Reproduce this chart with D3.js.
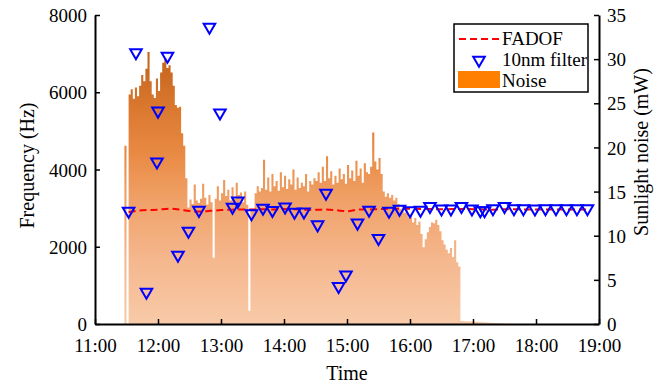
<!DOCTYPE html>
<html>
<head>
<meta charset="utf-8">
<script src="https://cdn.jsdelivr.net/npm/d3@7"></script>
<style>
  html, body { margin: 0; padding: 0; background: #ffffff; }
  svg { display: block; }
</style>
</head>
<body>
<div id="chart"></div>
<script>
// Sunlight noise (mW), sampled every 2 minutes from 11:28
const noiseStart = '11:28';
const noiseStepMin = 2;
const noiseValues = [
  20.2, 0, 26.0, 26.6, 25.5, 26.8, 25.8, 27.0, 28.2, 27.5,
  28.9, 30.8, 27.5, 26.0, 25.6, 27.8, 26.4, 28.5, 29.6, 30.1,
  29.0, 29.3, 28.5, 27.0, 24.8, 24.5, 24.6, 21.6, 20.2, 16.5,
  13.2, 14.1, 13.6, 15.8, 14.0, 13.7, 14.2, 15.9, 14.3, 13.5,
  14.6, 13.8, 7.5, 14.2, 15.6, 14.0, 14.8, 16.3, 14.5, 15.2,
  14.0, 15.5, 14.2, 16.0, 14.6, 14.9, 13.8, 15.0, 13.5, 1.5,
  12.8, 13.0, 14.8, 15.6, 15.0, 15.4, 18.6, 15.2, 16.6, 15.0,
  17.0, 15.6, 16.2, 15.1, 17.2, 15.5, 16.8, 15.3, 16.4, 15.8,
  17.5, 15.2, 16.6, 15.4, 16.0, 15.6, 17.0, 15.0, 16.2, 15.8,
  16.5, 16.2, 17.2, 16.0, 17.8, 16.2, 19.0, 16.5, 17.3, 15.8,
  16.8, 16.0, 17.6, 16.4, 17.0, 15.9, 18.0, 16.5, 17.4, 16.2,
  18.5, 16.8, 17.6, 16.0, 18.2, 17.2, 17.0, 17.8, 21.7, 18.4,
  17.5, 18.8, 17.0, 15.0, 14.4, 14.8, 14.3, 14.6, 14.0, 14.3,
  13.6, 13.0, 13.4, 12.6, 12.9, 12.1, 12.4, 11.5, 12.0, 11.2,
  11.6, 10.2, 8.7, 9.6, 10.4, 11.0, 11.5, 11.4, 11.8, 11.2,
  10.5, 9.5, 9.0, 8.4, 8.0, 8.6, 7.6, 9.5, 7.0, 6.5,
  0.35, 0.35, 0.3, 0.3, 0.3, 0.28, 0.28, 0.25, 0.25, 0.22,
  0.2, 0.2, 0.18, 0.15, 0.15, 0.12, 0.1, 0.1, 0.08, 0.06,
  0.05, 0.04, 0.03, 0.02, 0.01, 0
];

// FADOF frequency (Hz)
const fadofTimes = ['11:32', '11:40', '11:50', '12:00', '12:10', '12:20', '12:30', '12:40', '12:50', '13:00',
  '13:10', '13:20', '13:30', '13:40', '13:50', '14:00', '14:10', '14:20', '14:30', '14:40',
  '14:50', '15:00', '15:10', '15:20', '15:30', '15:40', '15:50', '16:00', '16:10', '16:20',
  '16:30', '16:40', '16:50', '17:00', '17:10', '17:20', '17:30', '17:40', '17:50', '18:00',
  '18:10', '18:20', '18:30', '18:40', '18:50'];
const fadofValues = [2900, 2930, 2950, 2960, 2985, 2965, 2925, 2910, 2930, 2950,
  2960, 2965, 2965, 2970, 2965, 2975, 2970, 2960, 2955, 2965,
  2945, 2920, 2960, 2965, 2975, 2985, 2985, 2985, 2980, 2975,
  2970, 2975, 2980, 2970, 2965, 2960, 2970, 2970, 2965, 2965,
  2965, 2965, 2965, 2965, 2965];

// 10nm filter frequency (Hz)
const filterTimes = ['11:32', '11:39', '11:49', '11:59', '12:00', '12:09', '12:19', '12:29', '12:39', '12:49',
  '12:59', '13:11', '13:16', '13:29', '13:40', '13:49', '14:01', '14:10', '14:19', '14:32',
  '14:40', '14:52', '14:59', '15:10', '15:21', '15:30', '15:40', '15:50', '16:00', '16:10',
  '16:19', '16:30', '16:39', '16:49', '16:59', '17:07', '17:11', '17:19', '17:30', '17:39',
  '17:48', '17:59', '18:09', '18:19', '18:29', '18:39', '18:49'];
const filterValues = [2900, 7000, 800, 4170, 5490, 6910, 1760, 2380, 2920, 7660,
  5440, 3000, 3160, 2830, 2975, 2915, 3005, 2870, 2880, 2545,
  3365, 950, 1245, 2590, 2925, 2195, 2900, 2950, 2910, 2925,
  3020, 2955, 2955, 3020, 2955, 2910, 2910, 2960, 3020, 2960,
  2960, 2955, 2960, 2960, 2960, 2960, 2960];

const xTickLabels = ['11:00', '12:00', '13:00', '14:00', '15:00', '16:00', '17:00', '18:00', '19:00'];
const freqTicks = [0, 2000, 4000, 6000, 8000];
const noiseTicks = [0, 5, 10, 15, 20, 25, 30, 35];

const parseTime = d3.timeParse('%H:%M');
const width = 669;
const height = 386;
const margin = { top: 15, right: 70, bottom: 62, left: 95 };
const font = '"Liberation Serif", "Times New Roman", serif';

const svg = d3.select('#chart')
  .append('svg')
  .attr('width', width)
  .attr('height', height);

const innerW = width - margin.left - margin.right;
const innerH = height - margin.top - margin.bottom;

const x = d3.scaleTime()
  .domain([parseTime(xTickLabels[0]), parseTime(xTickLabels[xTickLabels.length - 1])])
  .range([margin.left, margin.left + innerW]);
const yFreq = d3.scaleLinear().domain([0, 8000]).range([margin.top + innerH, margin.top]);
const yNoise = d3.scaleLinear().domain([0, 35]).range([margin.top + innerH, margin.top]);

// Noise data with times
const t0 = parseTime(noiseStart);
const noiseData = noiseValues.map((v, i) => ({ t: d3.timeMinute.offset(t0, i * noiseStepMin), v }));

// Height-based gradient for the noise fill
const defs = svg.append('defs');
const grad = defs.append('linearGradient')
  .attr('id', 'noise-grad')
  .attr('gradientUnits', 'userSpaceOnUse')
  .attr('x1', 0).attr('x2', 0)
  .attr('y1', yNoise(35)).attr('y2', yNoise(0));
[
  [0, '#b4520e'], [0.14, '#c4641e'], [0.3, '#da782e'], [0.45, '#e98a44'],
  [0.6, '#f0a168'], [0.8, '#f5b88f'], [1, '#f8caa8']
].forEach(([o, c]) => grad.append('stop').attr('offset', o).attr('stop-color', c));

const area = d3.area()
  .curve(d3.curveStepAfter)
  .x(d => x(d.t))
  .y0(yNoise(0))
  .y1(d => yNoise(d.v));

svg.append('path')
  .datum(noiseData)
  .attr('d', area)
  .attr('fill', 'url(#noise-grad)');

// FADOF dashed line
const fadofData = fadofTimes.map((t, i) => ({ t: parseTime(t), v: fadofValues[i] }));
svg.append('path')
  .datum(fadofData)
  .attr('d', d3.line().curve(d3.curveMonotoneX).x(d => x(d.t)).y(d => yFreq(d.v)))
  .attr('fill', 'none')
  .attr('stroke', '#ff0000')
  .attr('stroke-width', 2)
  .attr('stroke-dasharray', '7,4');

// 10nm filter triangles
const tri = d3.symbol().type(d3.symbolTriangle).size(58);
const filterData = filterTimes.map((t, i) => ({ t: parseTime(t), v: filterValues[i] }));
svg.append('g')
  .selectAll('path')
  .data(filterData)
  .enter()
  .append('path')
  .attr('d', tri)
  .attr('transform', d => `translate(${x(d.t)},${yFreq(d.v) - 1}) rotate(180)`)
  .attr('fill', 'none')
  .attr('stroke', '#0000ff')
  .attr('stroke-width', 2);

// Axes
const bottomY = margin.top + innerH;
const xAxis = d3.axisBottom(x)
  .tickValues(xTickLabels.map(parseTime))
  .tickFormat(d3.timeFormat('%H:%M'))
  .tickSizeInner(-5)
  .tickSizeOuter(0)
  .tickPadding(13);
const gx = svg.append('g').attr('transform', `translate(0,${bottomY})`).call(xAxis);

const yAxisL = d3.axisLeft(yFreq)
  .tickValues(freqTicks)
  .tickFormat(d3.format('d'))
  .tickSizeInner(-5)
  .tickSizeOuter(0)
  .tickPadding(8);
const gl = svg.append('g').attr('transform', `translate(${margin.left},0)`).call(yAxisL);

const yAxisR = d3.axisRight(yNoise)
  .tickValues(noiseTicks)
  .tickSizeInner(-5)
  .tickSizeOuter(0)
  .tickPadding(8);
const gr = svg.append('g').attr('transform', `translate(${margin.left + innerW},0)`).call(yAxisR);

[gx, gl, gr].forEach(g => {
  g.select('.domain').attr('stroke', '#000').attr('stroke-width', 2);
  g.selectAll('.tick line').attr('stroke', '#000').attr('stroke-width', 1.5);
  g.selectAll('.tick text')
    .style('font-family', font)
    .style('font-size', '19px')
    .attr('fill', '#000');
});
gl.selectAll('.tick text').attr('dy', '0.35em');
gr.selectAll('.tick text').attr('dy', '0.35em');
gx.selectAll('.tick text').attr('dy', '0.8em');

// Axis titles
svg.append('text')
  .attr('transform', `translate(34,${margin.top + innerH / 2 - 4}) rotate(-90)`)
  .attr('text-anchor', 'middle')
  .style('font-family', font)
  .style('font-size', '20px')
  .text('Frequency (Hz)');

svg.append('text')
  .attr('transform', `translate(648,152) rotate(-90)`)
  .attr('text-anchor', 'middle')
  .style('font-family', font)
  .style('font-size', '20px')
  .text('Sunlight noise (mW)');

svg.append('text')
  .attr('x', margin.left + innerW / 2)
  .attr('y', 380)
  .attr('text-anchor', 'middle')
  .style('font-family', font)
  .style('font-size', '20px')
  .text('Time');

// Legend
const legend = svg.append('g').attr('transform', 'translate(454,24)');
legend.append('rect')
  .attr('width', 134)
  .attr('height', 68)
  .attr('fill', '#fff')
  .attr('stroke', '#000')
  .attr('stroke-width', 1.5);

legend.append('line')
  .attr('x1', 5).attr('x2', 45)
  .attr('y1', 15).attr('y2', 15)
  .attr('stroke', '#ff0000')
  .attr('stroke-width', 2)
  .attr('stroke-dasharray', '7,4');

legend.append('path')
  .attr('d', tri)
  .attr('transform', 'translate(25,36) rotate(180)')
  .attr('fill', 'none')
  .attr('stroke', '#0000ff')
  .attr('stroke-width', 2);

legend.append('rect')
  .attr('x', 4).attr('y', 47)
  .attr('width', 42).attr('height', 17)
  .attr('fill', '#ff8000');

const legendLabels = ['FADOF', '10nm filter', 'Noise'];
legend.selectAll('.legend-label')
  .data(legendLabels)
  .enter()
  .append('text')
  .attr('class', 'legend-label')
  .attr('x', 48)
  .attr('y', (d, i) => 21 + i * 21)
  .style('font-family', font)
  .style('font-size', '19px')
  .text(d => d);
</script>
</body>
</html>
